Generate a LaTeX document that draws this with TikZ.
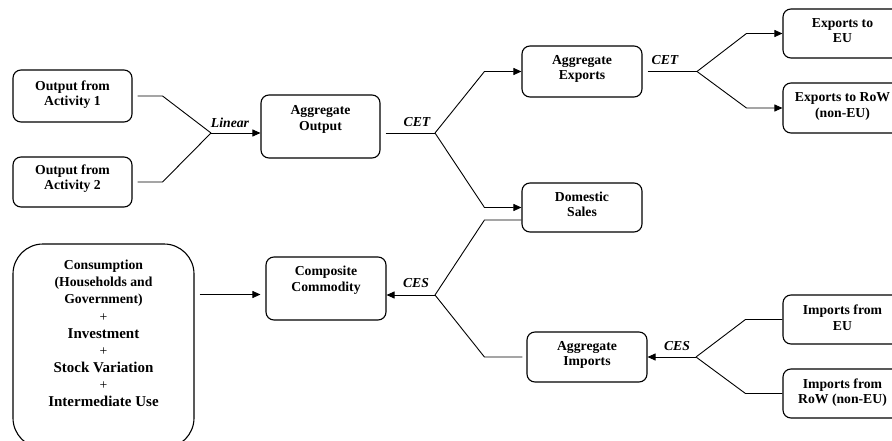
\documentclass[tikz,border=0pt]{standalone}
\usepackage{fontspec}
\setmainfont{Liberation Serif}
\usetikzlibrary{arrows.meta,calc}
\begin{document}
\begin{tikzpicture}[x=1pt,y=-1pt,
  box/.style={draw, rounded corners=8pt, line width=1.1pt, inner sep=0pt},
  txt/.style={font=\fontsize{13.7}{15.5}\selectfont\bfseries, align=center, inner sep=0pt},
  lab/.style={font=\fontsize{13.7}{15.5}\selectfont\bfseries\itshape, inner sep=0pt},
  ln/.style={line width=0.9pt},
  arr/.style={ln, -{Triangle[length=8pt,width=7pt]}}]
\useasboundingbox (0,0) rectangle (892,441);
\clip (0,0) rectangle (892,441);

% boxes
\node[box, minimum width=119pt, minimum height=52pt] (act1) at (72.5,96) {};
\node[txt] (act1t) at (72.5,94.5) {Output from\\Activity 1};
\node[box, minimum width=119pt, minimum height=50pt] (act2) at (72.5,182) {};
\node[txt] (act2t) at (72.5,178.5) {Output from\\Activity 2};
\node[box, minimum width=119pt, minimum height=63pt] (ao) at (320.5,126.5) {};
\node[txt] (aot) at (320.5,119.5) {Aggregate\\Output};
\node[box, minimum width=120pt, minimum height=51pt] (ae) at (582,71.5) {};
\node[txt] (aet) at (582,69) {Aggregate\\Exports};
\node[box, minimum width=119pt, minimum height=49pt] (eeu) at (842.5,33.5) {};
\node[txt] (eeut) at (842.5,30.5) {Exports to\\EU};
\node[box, minimum width=119pt, minimum height=50pt] (erow) at (842.5,108) {};
\node[txt] (erowt) at (842.5,106.5) {Exports to RoW\\(non-EU)};
\node[box, minimum width=120pt, minimum height=49pt] (ds) at (582,207.5) {};
\node[txt] (dst) at (582,204.5) {Domestic\\Sales};
\node[box, minimum width=120pt, minimum height=63pt] (cc) at (326,288.5) {};
\node[txt] (cct) at (326,280) {Composite\\Commodity};
\node[box, minimum width=120pt, minimum height=50pt] (ai) at (587,357) {};
\node[txt] (ait) at (587,355) {Aggregate\\Imports};
\node[box, minimum width=119pt, minimum height=49pt] (ieu) at (842.5,319.5) {};
\node[txt] (ieut) at (842.5,317.5) {Imports from\\EU};
\node[box, minimum width=119pt, minimum height=49pt] (irow) at (842.5,393.5) {};
\node[txt] (irowt) at (842.5,392.5) {Imports from\\RoW (non-EU)};
\node[box, rounded corners=30pt, minimum width=181pt, minimum height=204pt] (cons) at (103.5,346) {};
\node[txt, font=\fontsize{13.7}{17.1}\selectfont\bfseries] (const) at (103.5,333.5)
  {Consumption\\(Households and\\Government)\\{\mdseries +}\\{\fontsize{15}{17.1}\selectfont Investment}\\{\mdseries +}\\{\fontsize{15}{17.1}\selectfont Stock Variation}\\{\mdseries +}\\{\fontsize{15}{17.1}\selectfont Intermediate Use}};

% junctions
\coordinate (j1) at (211,133);
\coordinate (j2) at (435,133);
\coordinate (j3) at (697,71.5);
\coordinate (j4) at (435,295);
\coordinate (j5) at (696,357);

% Linear
\draw[ln, shorten <=5pt] (act1.east) -- ++(30,0) -- (j1);
\draw[ln, shorten <=5pt] (act2.east) -- ++(30,0) -- (j1);
\draw[arr] (j1) -- (j1 -| ao.west);
\node[lab] (linlab) at (230,123) {Linear};

% CET 1
\draw[ln, shorten <=5pt] (j2 -| ao.east) -- (j2);
\draw[arr] (j2) -- ($(ae.west)+(-37,0)$) -- (ae.west);
\draw[arr] (j2) -- ($(ds.west)+(-37,0)$) -- (ds.west);
\node[lab] (cet1) at (417,122) {CET};

% CET 2
\draw[ln, shorten <=5pt] (ae.east) -- (j3);
\draw[arr] (j3) -- ($(eeu.west)+(-36,0)$) -- (eeu.west);
\draw[arr] (j3) -- ($(erow.west)+(-36,0)$) -- (erow.west);
\node[lab] (cet2) at (665,60) {CET};

% CES 1
\coordinate (dsout) at ($(ds.west)+(0,12.5)$);
\draw[ln] (dsout) -- ++(-37,0) -- (j4);
\draw[ln, shorten <=4pt] (ai.west) -- ++(-42,0) -- (j4);
\draw[arr] (j4) -- (j4 -| cc.east);
\node[lab] (ces1) at (416,283) {CES};

% CES 2
\draw[arr] (j5) -- (ai.east);
\draw[ln] (ieu.west) -- ++(-37,0) -- (j5);
\draw[ln] (irow.west) -- ++(-37,0) -- (j5);
\node[lab] (ces2) at (677,346) {CES};

% Consumption -> Composite
\coordinate (cin) at (cons.east |- 0,294.5);
\draw[arr, shorten <=5pt, shorten >=5pt] (cin) -- (cin -| cc.west);
\end{tikzpicture}
\end{document}
